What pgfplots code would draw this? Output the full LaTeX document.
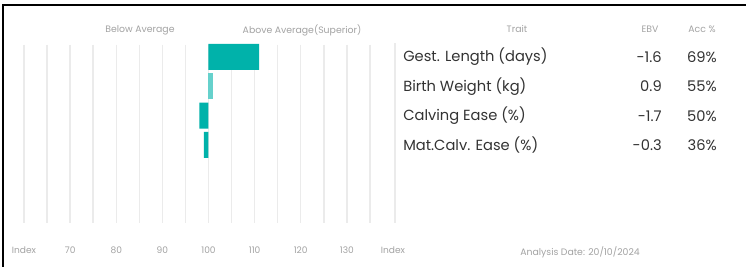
\documentclass[border=0pt]{standalone}
\usepackage{pgfplots}
\pgfplotsset{compat=1.18}
\usepackage{fontspec}
\setmainfont{Poppins}
\definecolor{barteal}{HTML}{00B2AA}
\definecolor{barlight}{HTML}{66D1CC}
\definecolor{gridgray}{HTML}{EBEBEB}
\definecolor{smallgray}{HTML}{A3A3A3}
\definecolor{maintext}{HTML}{333333}
\begin{document}
\begin{tikzpicture}
\begin{scope}[x=0.75pt,y=0.75pt]
\useasboundingbox (0,0) rectangle (746,267);
\fill[white] (0,0) rectangle (746,267);
\draw[black, line width=1.5pt] (3,0) -- (3,262) -- (746,262);
\end{scope}
\begin{axis}[
  at={(18pt,33pt)}, anchor=south west,
  scale only axis, width=276.75pt, height=133.5pt,
  xmin=-40, xmax=40, ymin=0.59, ymax=6.67, y dir=reverse,
  axis line style={draw=none},
  major tick style={draw=none}, minor tick style={draw=none},
  xtick={-40,-30,...,40},
  xticklabels={Index,70,80,90,100,110,120,130,Index},
  minor xtick={-40,-35,...,35},
  xminorgrids=true, xmajorgrids=false,
  minor grid style={gridgray, line width=1.1pt},
  ytick=\empty,
  xticklabel style={anchor=center, yshift=-20.25pt, font=\fontsize{6.8}{7}\selectfont, text=smallgray},
  /pgf/number format/assume math mode=true,
  xbar, bar shift=0pt, bar width=19.5pt,
  clip=false,
]
\addplot[fill=barteal, draw=none] coordinates {(11,1) (-2,3) (-1,4)};
\addplot[fill=barlight, draw=none] coordinates {(1,2)};
\end{axis}
\begin{scope}[x=0.75pt,y=0.75pt]
\draw[gridgray, line width=1pt] (395,44) -- (395,224);
\begin{scope}[every node/.style={font=\fontsize{7}{8}\selectfont, text=smallgray, inner sep=0pt}]
\node at (140,237) {Below Average};
\node at (302,237) {Above Average(Superior)};
\node at (517,238) {Trait};
\node at (650,238) {EBV};
\node at (702,238) {Acc \%};
\node at (580,15) {Analysis Date: 20/10/2024};
\end{scope}
\begin{scope}[every node/.style={font=\fontsize{11}{13}\selectfont, text=maintext, inner sep=0pt}]
\node[anchor=west] at (403,210) {Gest. Length (days)};
\node[anchor=west] at (403,180.5) {Birth Weight (kg)};
\node[anchor=west] at (403,151) {Calving Ease (\%)};
\node[anchor=west] at (403,122) {Mat.Calv. Ease (\%)};
\node[anchor=east] at (662,210) {-1.6};
\node[anchor=east] at (662,180.5) {0.9};
\node[anchor=east] at (662,151) {-1.7};
\node[anchor=east] at (662,122) {-0.3};
\node[anchor=east] at (717,210) {69\%};
\node[anchor=east] at (717,180.5) {55\%};
\node[anchor=east] at (717,151) {50\%};
\node[anchor=east] at (717,122) {36\%};
\end{scope}
\end{scope}
\end{tikzpicture}
\end{document}
